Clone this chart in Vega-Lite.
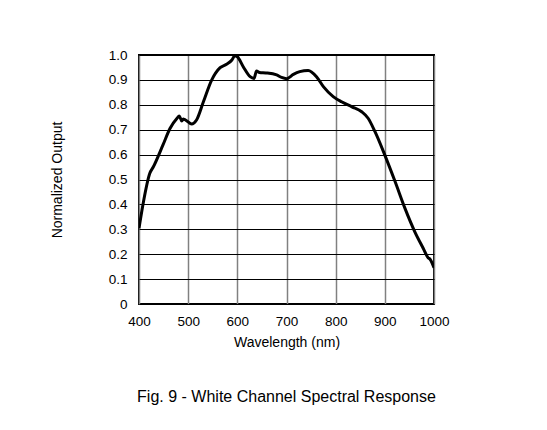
{
  "$schema": "https://vega.github.io/schema/vega-lite/v6.json",
  "width": 295,
  "height": 249,
  "autosize": {"type": "none"},
  "padding": {"left": 139, "top": 55, "right": 113, "bottom": 126},
  "background": "white",
  "config": {
    "font": "Liberation Sans",
    "view": {"stroke": "black", "strokeWidth": 2},
    "axis": {"domain": false, "ticks": false, "labelFont": "Liberation Sans", "titleFont": "Liberation Sans", "labelFontSize": 13.5, "titleFontSize": 14, "titleFontWeight": "normal", "labelColor": "black", "titleColor": "black"}
  },
  "title": {"text": "Fig. 9 - White Channel Spectral Response", "orient": "bottom", "fontSize": 16, "fontWeight": "normal", "color": "black", "offset": 39, "font": "Liberation Sans"},
  "data": {"values": [
    {"wl": 400, "v": 0.304},
    {"wl": 409, "v": 0.41},
    {"wl": 422, "v": 0.525},
    {"wl": 429, "v": 0.55},
    {"wl": 449, "v": 0.64},
    {"wl": 463, "v": 0.705},
    {"wl": 477, "v": 0.745},
    {"wl": 482, "v": 0.755},
    {"wl": 487, "v": 0.735},
    {"wl": 490, "v": 0.743},
    {"wl": 507, "v": 0.723},
    {"wl": 517, "v": 0.739},
    {"wl": 531, "v": 0.812},
    {"wl": 548, "v": 0.9},
    {"wl": 565, "v": 0.949},
    {"wl": 578, "v": 0.963},
    {"wl": 589, "v": 0.98},
    {"wl": 595, "v": 0.997},
    {"wl": 600, "v": 0.993},
    {"wl": 612, "v": 0.953},
    {"wl": 626, "v": 0.913},
    {"wl": 634, "v": 0.906},
    {"wl": 639, "v": 0.936},
    {"wl": 645, "v": 0.93},
    {"wl": 658, "v": 0.928},
    {"wl": 680, "v": 0.92},
    {"wl": 690, "v": 0.91},
    {"wl": 700, "v": 0.905},
    {"wl": 714, "v": 0.922},
    {"wl": 727, "v": 0.933},
    {"wl": 744, "v": 0.938},
    {"wl": 761, "v": 0.913},
    {"wl": 775, "v": 0.873},
    {"wl": 795, "v": 0.833},
    {"wl": 812, "v": 0.812},
    {"wl": 833, "v": 0.792},
    {"wl": 853, "v": 0.772},
    {"wl": 866, "v": 0.746},
    {"wl": 880, "v": 0.692},
    {"wl": 900, "v": 0.598},
    {"wl": 921, "v": 0.491},
    {"wl": 941, "v": 0.384},
    {"wl": 961, "v": 0.29},
    {"wl": 978, "v": 0.224},
    {"wl": 988, "v": 0.186},
    {"wl": 992, "v": 0.18},
    {"wl": 1000, "v": 0.146}
  ]},
  "mark": {"type": "line", "color": "black", "strokeWidth": 3, "interpolate": "monotone", "clip": true},
  "encoding": {
    "x": {"field": "wl", "type": "quantitative", "scale": {"domain": [400, 1000], "nice": false, "zero": false},
      "axis": {"values": [400, 500, 600, 700, 800, 900, 1000], "format": "d", "labelFlush": false, "labelOverlap": false, "title": "Wavelength (nm)", "labelPadding": 10, "titlePadding": 8, "grid": true, "gridColor": "#808080", "gridWidth": 1.5, "gridOpacity": 1}},
    "y": {"field": "v", "type": "quantitative", "scale": {"domain": [0, 1], "nice": false},
      "axis": {"values": [0, 0.1, 0.2, 0.3, 0.4, 0.5, 0.6, 0.7, 0.8, 0.9, 1.0], "labelExpr": "datum.value == 0 ? '0' : format(datum.value, '.1f')", "labelFlush": false, "labelOverlap": false, "title": "Normalized Output", "labelPadding": 12, "titlePadding": 44, "grid": true, "gridColor": "black", "gridWidth": 1, "gridOpacity": 1}}
  }
}
